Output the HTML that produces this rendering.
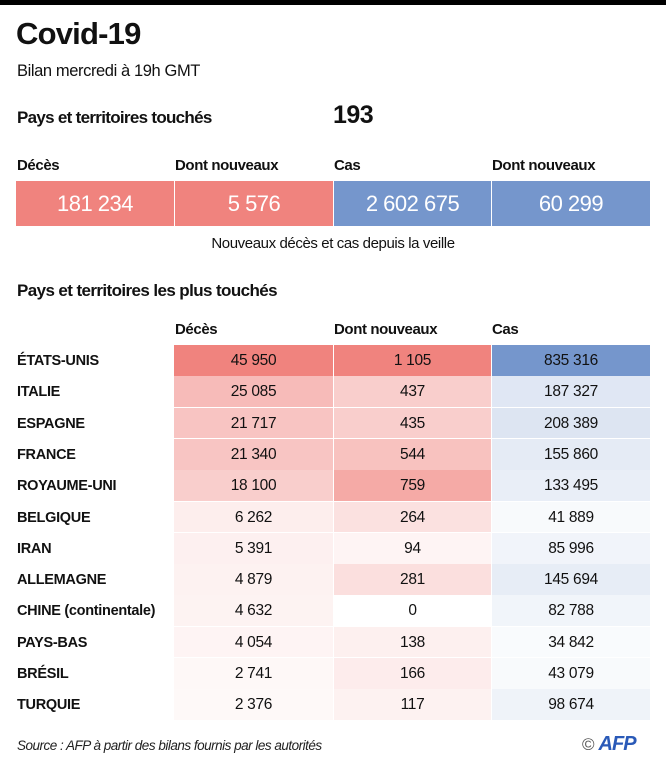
<!DOCTYPE html>
<html><head><meta charset="utf-8">
<style>
body{margin:0;width:666px;height:768px;background:#fff;position:relative;overflow:hidden;font-family:"Liberation Sans",sans-serif;color:#111;}
.a{position:absolute;white-space:nowrap;}
.box{position:absolute;top:181px;height:45px;color:#fff;font-size:22px;line-height:45px;text-align:center;letter-spacing:-0.5px;}
.lab{position:absolute;top:157px;font-size:15px;font-weight:bold;letter-spacing:-0.4px;}
.cell{position:absolute;height:31px;line-height:31px;text-align:center;font-size:15.5px;letter-spacing:-0.3px;color:#111;}
.rl{position:absolute;height:31px;line-height:31px;font-size:14.5px;font-weight:bold;letter-spacing:-0.3px;left:17px;}
</style></head><body>
<div class="a" style="left:0;top:0;width:666px;height:5px;background:#000"></div>
<div class="a" style="left:16px;top:16px;font-size:31px;font-weight:bold;letter-spacing:-0.8px">Covid-19</div>
<div class="a" style="left:17px;top:62px;font-size:16.5px;letter-spacing:-0.4px">Bilan mercredi à 19h GMT</div>
<div class="a" style="left:17px;top:108px;font-size:17px;font-weight:bold;letter-spacing:-0.7px">Pays et territoires touchés</div>
<div class="a" style="left:333px;top:101px;font-size:25px;font-weight:bold;letter-spacing:-0.5px">193</div>
<div class="lab" style="left:17px">Décès</div>
<div class="lab" style="left:175px">Dont nouveaux</div>
<div class="lab" style="left:334px">Cas</div>
<div class="lab" style="left:492px">Dont nouveaux</div>
<div class="box" style="left:16px;width:158px;background:#f0837e">181 234</div>
<div class="box" style="left:175px;width:158px;background:#f0837e">5 576</div>
<div class="box" style="left:334px;width:157px;background:#7596cc">2 602 675</div>
<div class="box" style="left:492px;width:158px;background:#7596cc">60 299</div>
<div class="a" style="left:0;width:666px;text-align:center;top:235px;font-size:15px;letter-spacing:-0.4px">Nouveaux décès et cas depuis la veille</div>
<div class="a" style="left:17px;top:281px;font-size:17px;font-weight:bold;letter-spacing:-0.6px">Pays et territoires les plus touchés</div>
<div class="lab" style="left:175px;top:321px">Décès</div>
<div class="lab" style="left:334px;top:321px">Dont nouveaux</div>
<div class="lab" style="left:492px;top:321px">Cas</div>
<div id="tbl"></div>
<div class="a" style="left:17px;top:738px;font-size:13.5px;font-style:italic;letter-spacing:-0.5px;color:#222">Source : AFP à partir des bilans fournis par les autorités</div>
<div class="a" style="left:582px;top:733px;font-size:17px;color:#555">©<span style="color:#2a5ab8;font-weight:bold;font-style:italic;font-size:20px;letter-spacing:-1px;margin-left:4px">AFP</span></div>
<script>
const countries=["ÉTATS-UNIS","ITALIE","ESPAGNE","FRANCE","ROYAUME-UNI","BELGIQUE","IRAN","ALLEMAGNE","CHINE (continentale)","PAYS-BAS","BRÉSIL","TURQUIE"];
const deaths=[45950,25085,21717,21340,18100,6262,5391,4879,4632,4054,2741,2376];
const newDeaths=[1105,437,435,544,759,264,94,281,0,138,166,117];
const cases=[835316,187327,208389,155860,133495,41889,85996,145694,82788,34842,43079,98674];
const tbl=document.getElementById('tbl');
function fmt(v){return String(v).replace(/\B(?=(\d{3})+(?!\d))/g,' ');}
function mix(c,t){return 'rgb('+c.map(x=>Math.round(255-(255-x)*t)).join(',')+')';}
const red=[240,131,126],blue=[117,150,204];
const cols=[{d:deaths,x:174,w:159,c:red,n:'deaths-cell'},{d:newDeaths,x:334,w:157,c:red,n:'new-deaths-cell'},{d:cases,x:492,w:158,c:blue,n:'cases-cell'}];
const top0=345,rh=31.3;
countries.forEach((name,i)=>{
  const y=top0+i*rh;
  const l=document.createElement('div');
  l.className='rl';l.style.top=(y+1)+'px';l.textContent=name;
  
  
  tbl.appendChild(l);
  cols.forEach(c=>{
    const max=Math.max(...c.d);
    const e=document.createElement('div');
    e.className='cell';
    e.style.left=c.x+'px';e.style.width=c.w+'px';e.style.top=y+'px';e.style.height=(rh-0.5)+'px';
    e.style.background=mix(c.c,c.d[i]/max);
    e.textContent=fmt(c.d[i]);
    
    
    tbl.appendChild(e);
  });
});
</script>
</body></html>
